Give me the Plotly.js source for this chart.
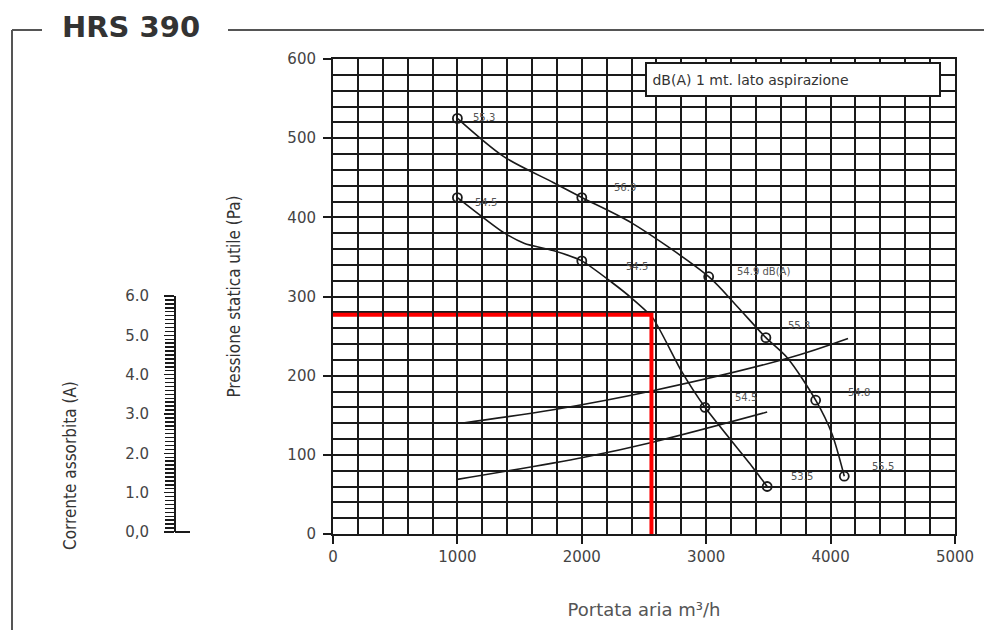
<!DOCTYPE html>
<html>
<head>
<meta charset="utf-8">
<script src="https://cdn.plot.ly/plotly-3.0.1.min.js"></script>
<style>html,body{margin:0;padding:0;background:#fff}#chart{width:984px;height:630px}</style>
</head>
<body>
<div id="chart"></div>
<script>
// ---- data ----
const chartTitle = "HRS 390";
const legendText = "dB(A) 1 mt. lato aspirazione";
const ampTitle = "Corrente assorbita (A)";

// upper fan curve (line path) and its measured points
const upperCurveX = [1000, 1370, 1770, 2000, 2400, 3020, 3240, 3480, 3655, 3880, 4010, 4110];
const upperCurveY = [525, 477, 444, 425, 393, 325, 289, 248, 222, 169, 127, 73];
const upperPtsX = [1000, 2000, 3020, 3480, 3880, 4110];
const upperPtsY = [525, 425, 325, 248, 169, 73];
const upperLabels = ["55.3", "56.9", "54.9 dB(A)", "55.3", "54.8", "55.5"];

// lower fan curve (line path) and its measured points
const lowerCurveX = [1000, 1370, 1540, 1770, 2000, 2240, 2400, 2570, 2800, 2990, 3370, 3490];
const lowerCurveY = [425, 381, 367, 358, 345, 318, 298, 273, 206, 160, 85, 60];
const lowerPtsX = [1000, 2000, 2990, 3490];
const lowerPtsY = [425, 345, 160, 60];
const lowerLabels = ["54.5", "54.5", "54.5", "53.5"];

// current (system) lines
const sysAX = [1030, 1770, 2570, 3655, 4140];
const sysAY = [140, 157, 181, 222, 247];
const sysBX = [1000, 2020, 2570, 3490];
const sysBY = [69, 97, 116, 154];

// working point (red)
const workX = [0, 2560, 2560];
const workY = [277, 277, 0];

// current axis tick labels
const ampTickVals = [0, 1, 2, 3, 4, 5, 6];
const ampTickText = ["0,0", "1.0", "2.0", "3.0", "4.0", "5.0", "6.0"];

// ---- layout helpers ----
const M = {l: 100, r: 29, t: 59, b: 96};
const PW = 984 - M.l - M.r, PH = 630 - M.t - M.b;
const px = x => (x - M.l) / PW;
const py = y => (630 - M.b - y) / PH;

const upperShift = [[14, 1], [30, 10], [26, 5], [20, 12], [30, 8], [26, 10]];
const lowerShift = [[16, -5], [42, -6], [28, 10], [22, 10]];

const ink = "#1a1a1a";
const tickFont = {family: "DejaVu Sans, Verdana, sans-serif", size: 15, color: "#444"};
const narrow = "Liberation Sans Narrow, DejaVu Sans Condensed, Arial Narrow, sans-serif";

const traces = [
  {x: sysAX, y: sysAY, mode: "lines", line: {color: ink, width: 1.6, shape: "spline"}, hoverinfo: "skip"},
  {x: sysBX, y: sysBY, mode: "lines", line: {color: ink, width: 1.6, shape: "spline"}, hoverinfo: "skip"},
  {x: upperCurveX, y: upperCurveY, mode: "lines", line: {color: ink, width: 1.6, shape: "spline", smoothing: 0.8}, hoverinfo: "skip"},
  {x: lowerCurveX, y: lowerCurveY, mode: "lines", line: {color: ink, width: 1.6, shape: "spline", smoothing: 0.6}, hoverinfo: "skip"},
  {x: upperPtsX, y: upperPtsY, mode: "markers", marker: {symbol: "circle-open", size: 9, color: ink, line: {width: 1.8, color: ink}}},
  {x: lowerPtsX, y: lowerPtsY, mode: "markers", marker: {symbol: "circle-open", size: 9, color: ink, line: {width: 1.8, color: ink}}},
  {x: workX, y: workY, mode: "lines", line: {color: "#ff0000", width: 4}, hoverinfo: "skip"},
  {x: [null], y: [null], xaxis: "x", yaxis: "y2", mode: "lines", hoverinfo: "skip"}
];

const annotations = [];
upperPtsX.forEach((x, i) => annotations.push({x: x, y: upperPtsY[i], xref: "x", yref: "y", text: upperLabels[i], showarrow: false,
  xanchor: "left", yanchor: "middle", xshift: upperShift[i][0], yshift: upperShift[i][1], font: {family: "DejaVu Sans, sans-serif", size: 10, color: "#555"}}));
lowerPtsX.forEach((x, i) => annotations.push({x: x, y: lowerPtsY[i], xref: "x", yref: "y", text: lowerLabels[i], showarrow: false,
  xanchor: "left", yanchor: "middle", xshift: lowerShift[i][0], yshift: lowerShift[i][1], font: {family: "DejaVu Sans, sans-serif", size: 10, color: "#555"}}));
annotations.push({xref: "paper", yref: "paper", x: px(645), y: py(62), xanchor: "left", yanchor: "top", text: "&nbsp;" + legendText, showarrow: false,
  width: 290, height: 29, align: "left", valign: "middle", bgcolor: "#fff", bordercolor: ink, borderwidth: 2, borderpad: 1,
  font: {family: "DejaVu Sans, sans-serif", size: 14, color: "#333"}});
annotations.push({xref: "paper", yref: "paper", x: px(60), y: py(27), xanchor: "left", yanchor: "middle", text: "<b>" + chartTitle + "</b>",
  showarrow: false, font: {family: "DejaVu Sans, sans-serif", size: 29, color: "#333"}});
annotations.push({xref: "paper", yref: "paper", x: px(70), y: py(466), xanchor: "center", yanchor: "middle", textangle: -90,
  text: ampTitle, showarrow: false, font: {family: narrow, size: 17, color: "#333"}});

const frame = {color: "#555", width: 2};
const shapes = [
  {type: "line", xref: "paper", yref: "paper", x0: px(228), x1: px(984), y0: py(30), y1: py(30), line: frame},
  {type: "line", xref: "paper", yref: "paper", x0: px(12), x1: px(42), y0: py(30), y1: py(30), line: frame},
  {type: "line", xref: "paper", yref: "paper", x0: px(12), x1: px(12), y0: py(30), y1: py(630), line: frame},
  {type: "line", xref: "paper", yref: "paper", x0: px(175), x1: px(190), y0: py(532), y1: py(532), line: {color: ink, width: 2}}
];

const layout = {
  width: 984, height: 630,
  margin: M,
  paper_bgcolor: "#fff", plot_bgcolor: "rgba(0,0,0,0)",
  showlegend: false,
  xaxis: {
    domain: [px(333), 1], range: [0, 5000], dtick: 1000, tick0: 0,
    showgrid: true, gridcolor: ink, gridwidth: 2,
    minor: {dtick: 200, showgrid: true, gridcolor: ink, gridwidth: 2, ticks: ""},
    showline: true, mirror: true, linecolor: ink, linewidth: 2,
    ticks: "outside", ticklen: 8, tickwidth: 2, tickcolor: ink,
    zeroline: false, tickfont: tickFont,
    title: {text: "Portata aria m³/h", standoff: 38, font: {family: "DejaVu Sans, sans-serif", size: 18, color: "#555"}}
  },
  yaxis: {
    range: [0, 600], dtick: 100, tick0: 0,
    showgrid: true, gridcolor: ink, gridwidth: 2,
    minor: {dtick: 20, showgrid: true, gridcolor: ink, gridwidth: 2, ticks: ""},
    showline: true, mirror: true, linecolor: ink, linewidth: 2,
    ticks: "outside", ticklen: 8, tickwidth: 2, tickcolor: ink,
    zeroline: false, tickfont: tickFont, ticklabelstandoff: 4,
    title: {text: "Pressione statica utile (Pa)", standoff: 42, font: {family: narrow, size: 17, color: "#333"}}
  },
  yaxis2: {
    domain: [py(532), py(296)], range: [0, 6], anchor: "free", position: px(175), side: "left",
    tickmode: "array", tickvals: ampTickVals, ticktext: ampTickText,
    showgrid: false, zeroline: false,
    showline: true, linecolor: ink, linewidth: 2,
    ticks: "outside", ticklen: 10, tickwidth: 1.5, tickcolor: ink,
    minor: {tickmode: "linear", tick0: 0, dtick: 0.1, ticks: "outside", ticklen: 9, tickwidth: 1.5, tickcolor: ink, showgrid: false},
    tickfont: tickFont, ticklabelstandoff: 12
  },
  annotations: annotations,
  shapes: shapes
};

Plotly.newPlot("chart", traces, layout, {staticPlot: true, displayModeBar: false});
</script>
</body>
</html>
